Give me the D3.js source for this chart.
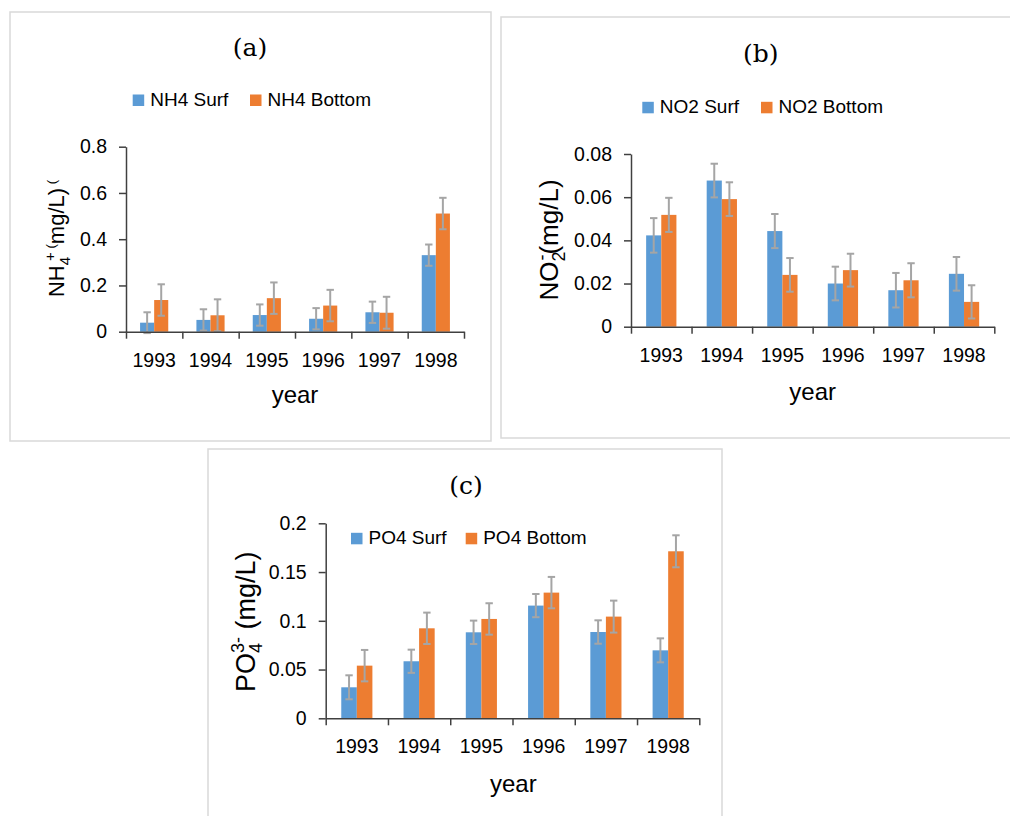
<!DOCTYPE html>
<html>
<head>
<meta charset="utf-8">
<script src="https://cdn.jsdelivr.net/npm/d3@7"></script>
<style>
  body { margin: 0; background: #fff; }
  text { font-family: "Liberation Sans", Arial, sans-serif; fill: #000; }
</style>
</head>
<body>
<svg width="1010" height="816"></svg>
<script>
const years = ["1993", "1994", "1995", "1996", "1997", "1998"];

// (a) NH4
const nh4Names     = ["NH4 Surf", "NH4 Bottom"];
const nh4Surf      = [0.039, 0.051, 0.072, 0.056, 0.084, 0.331];
const nh4SurfErr   = [0.045, 0.046, 0.046, 0.046, 0.046, 0.046];
const nh4Bottom    = [0.137, 0.071, 0.145, 0.113, 0.082, 0.511];
const nh4BottomErr = [0.068, 0.069, 0.068, 0.068, 0.069, 0.068];
const nh4Ticks     = [0, 0.2, 0.4, 0.6, 0.8];

// (b) NO2
const no2Names     = ["NO2 Surf", "NO2 Bottom"];
const no2Surf      = [0.0423, 0.0677, 0.0443, 0.0200, 0.0169, 0.0245];
const no2SurfErr   = [0.0080, 0.0078, 0.0079, 0.0078, 0.0080, 0.0078];
const no2Bottom    = [0.0518, 0.0591, 0.0240, 0.0262, 0.0215, 0.0115];
const no2BottomErr = [0.0079, 0.0078, 0.0078, 0.0076, 0.0079, 0.0077];
const no2Ticks     = [0, 0.02, 0.04, 0.06, 0.08];

// (c) PO4
const po4Names     = ["PO4 Surf", "PO4 Bottom"];
const po4Surf      = [0.0318, 0.0585, 0.0882, 0.1156, 0.0885, 0.0697];
const po4SurfErr   = [0.0123, 0.0119, 0.0120, 0.0119, 0.0120, 0.0123];
const po4Bottom    = [0.0540, 0.0923, 0.1019, 0.1289, 0.1043, 0.1713];
const po4BottomErr = [0.0161, 0.0161, 0.0161, 0.0161, 0.0164, 0.0164];
const po4Ticks     = [0, 0.05, 0.1, 0.15, 0.2];

const colors = ["#5B9BD5", "#ED7D31"];
const axisColor = "#404040";
const errColor = "#A5A5A5";

const svg = d3.select("svg");
svg.append("rect").attr("width", 1010).attr("height", 816).attr("fill", "#fff");

function panel(p) {
  const g = svg.append("g");

  // frame
  g.append("rect")
    .attr("x", p.frame[0]).attr("y", p.frame[1])
    .attr("width", p.frame[2]).attr("height", p.frame[3])
    .attr("fill", "none").attr("stroke", "#d9d9d9").attr("stroke-width", 1.5);

  const y = d3.scaleLinear().domain([0, d3.max(p.ticks)]).range([p.y0, p.y1]);
  const x = d3.scaleBand().domain(years).range([p.x0, p.x1])
    .paddingInner(0.5).paddingOuter(0.25);
  const xs = d3.scaleBand().domain([0, 1]).range([0, x.bandwidth()]);
  const xb = d3.scaleLinear().domain([0, years.length]).range([p.x0, p.x1]);

  const series = [p.surf, p.bottom];
  const errs = [p.surfErr, p.bottomErr];

  // bars
  series.forEach((vals, s) => {
    g.selectAll(null).data(vals).enter().append("rect")
      .attr("x", (d, i) => x(years[i]) + xs(s))
      .attr("y", d => y(d))
      .attr("width", xs.bandwidth())
      .attr("height", d => y(0) - y(d))
      .attr("fill", colors[s]);
  });

  // error bars
  series.forEach((vals, s) => {
    const eb = g.selectAll(null).data(vals).enter().append("g")
      .attr("stroke", errColor).attr("stroke-width", 2);
    const cx = (d, i) => x(years[i]) + xs(s) + xs.bandwidth() / 2;
    eb.append("line")
      .attr("x1", cx).attr("x2", cx)
      .attr("y1", (d, i) => y(d + errs[s][i]))
      .attr("y2", (d, i) => y(Math.max(0, d - errs[s][i])));
    [1, -1].forEach(k => {
      eb.filter((d, i) => d - k * errs[s][i] >= 0 || k === 1)
        .append("line")
        .attr("x1", (d, i) => cx(d, i) - 3.7).attr("x2", (d, i) => cx(d, i) + 3.7)
        .attr("y1", (d, i) => y(d + k * errs[s][i]))
        .attr("y2", (d, i) => y(d + k * errs[s][i]));
    });
  });

  // y axis
  const ya = g.append("g").attr("transform", `translate(${p.x0},0)`)
    .call(d3.axisLeft(y).tickValues(p.ticks).tickSize(7).tickSizeOuter(0)
      .tickPadding(12).tickFormat(d3.format("~g")));
  // x axis: boundary ticks
  const xa = g.append("g").attr("transform", `translate(0,${p.y0})`)
    .call(d3.axisBottom(xb).tickValues(d3.range(years.length + 1))
      .tickSize(7).tickSizeOuter(0).tickFormat(""));
  // x axis: category labels
  const xl = g.append("g").attr("transform", `translate(0,${p.y0})`)
    .call(d3.axisBottom(x).tickSize(0).tickPadding(21));
  xl.select(".domain").remove();

  [ya, xa].forEach(a => {
    a.selectAll("path, line").attr("stroke", axisColor).attr("stroke-width", 1.5);
  });
  [ya, xl].forEach(a => {
    a.selectAll("text").attr("fill", "#111").style("font-size", "19.5px")
      .style("font-family", '"Liberation Sans", Arial, sans-serif');
  });

  // title
  g.append("text")
    .attr("x", p.title[0]).attr("y", p.title[1])
    .attr("text-anchor", "middle")
    .style("font-family", '"DejaVu Serif", "Liberation Serif", serif')
    .style("font-size", "25px")
    .text(p.titleText);

  // legend
  p.names.forEach((n, s) => {
    g.append("rect")
      .attr("x", p.legend[s]).attr("y", p.legendY - 11.5)
      .attr("width", 11.5).attr("height", 11.5)
      .attr("fill", colors[s]);
    g.append("text")
      .attr("x", p.legend[s] + 17.5).attr("y", p.legendY)
      .style("font-size", "19px")
      .text(n);
  });

  // x title
  g.append("text")
    .attr("x", p.xTitle[0]).attr("y", p.xTitle[1])
    .attr("text-anchor", "middle")
    .style("font-size", "24px")
    .text("year");

  // y title
  const yt = g.append("text")
    .attr("transform", `translate(${p.yTitle[0]},${p.yTitle[1]}) rotate(-90)`)
    .attr("text-anchor", "middle")
    .style("font-size", p.yTitleSize + "px");
  p.yTitleParts.forEach(t => {
    const ts = yt.append("tspan").text(t.s);
    if (t.dy) ts.attr("dy", t.dy);
    if (t.dx) ts.attr("dx", t.dx);
    if (t.size) ts.style("font-size", t.size + "px");
  });
}

panel({
  frame: [10, 12, 481, 429],
  x0: 126, x1: 464, y0: 331.7, y1: 146.7,
  ticks: nh4Ticks, names: nh4Names,
  surf: nh4Surf, surfErr: nh4SurfErr, bottom: nh4Bottom, bottomErr: nh4BottomErr,
  title: [250, 56], titleText: "(a)",
  legend: [132.7, 250], legendY: 106,
  xTitle: [295, 403],
  yTitle: [63.5, 238.5], yTitleSize: 22,
  yTitleParts: [
    {s: "NH"}, {s: "4", dy: 6, size: 15}, {s: "+", dx: -4, dy: -15, size: 15},
    {s: " (", size: 13}, {s: "mg/L)", dy: 9}, {s: " (", dy: -8, size: 13}
  ]
});

panel({
  frame: [501, 17, 520, 421],
  x0: 631, x1: 994.3, y0: 326.7, y1: 154,
  ticks: no2Ticks, names: no2Names,
  surf: no2Surf, surfErr: no2SurfErr, bottom: no2Bottom, bottomErr: no2BottomErr,
  title: [760.7, 62], titleText: "(b)",
  legend: [642.3, 761], legendY: 113.3,
  xTitle: [812.7, 400],
  yTitle: [558, 240], yTitleSize: 26,
  yTitleParts: [
    {s: "NO"}, {s: "2", dy: 7, size: 18}, {s: "-", dx: -9, dy: -17, size: 18},
    {s: "(mg/L)", dy: 10}
  ]
});

panel({
  frame: [208, 449, 514, 380],
  x0: 325.7, x1: 699.3, y0: 718.3, y1: 523.3,
  ticks: po4Ticks, names: po4Names,
  surf: po4Surf, surfErr: po4SurfErr, bottom: po4Bottom, bottomErr: po4BottomErr,
  title: [466, 494], titleText: "(c)",
  legend: [351, 465.7], legendY: 544.3,
  xTitle: [513.3, 791.7],
  yTitle: [255, 621.7], yTitleSize: 27,
  yTitleParts: [
    {s: "PO"}, {s: "4", dy: 7, size: 18}, {s: "3-", dx: -10, dy: -18, size: 18},
    {s: " (mg/L)", dy: 11}
  ]
});
</script>
</body>
</html>
